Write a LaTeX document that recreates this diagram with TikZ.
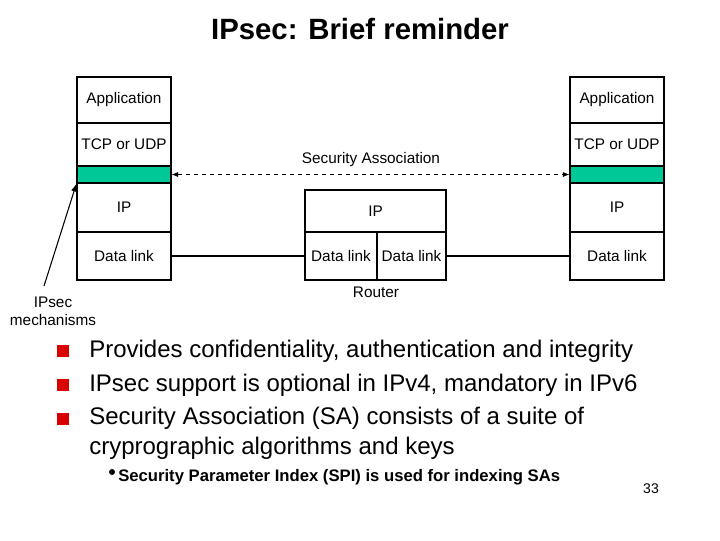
\documentclass[tikz,border=0pt]{standalone}
\usepackage{fontspec}
\setmainfont{Liberation Sans}
\usetikzlibrary{arrows.meta}
\begin{document}
\begin{tikzpicture}[x=0.75pt,y=-0.75pt,
  lay/.style={draw,thick,minimum width=70.5pt,inner sep=0pt,font=\fontsize{11.5}{13}\selectfont},
  bul/.style={anchor=west,font=\fontsize{18}{22.5}\selectfont,inner sep=0pt,align=left},
  sq/.style={fill=red!85!black,minimum size=9pt,inner sep=0pt},
  lbl/.style={font=\fontsize{11.5}{13.5}\selectfont,align=center,inner sep=0pt}]
\useasboundingbox (0,0) rectangle (720,540);
\node[font=\bfseries\fontsize{22}{26}\selectfont] (title) at (360,29) {IPsec: Brief reminder};
\foreach \n/\X in {L/124,R/617}{
 \node[lay,minimum height=34.5pt] (\n app) at (\X,100) {Application};
 \node[lay,minimum height=32.25pt] (\n tcp) at (\X,144.5) {TCP or UDP};
 \node[lay,minimum height=12.75pt,fill={rgb,255:red,0;green,200;blue,150}] (\n sec) at (\X,174.5) {};
 \node[lay,minimum height=36.75pt] (\n ip) at (\X,207.5) {IP};
 \node[lay,minimum height=36pt] (\n dl) at (\X,256) {Data link};
}
\node[lay,minimum width=105.75pt,minimum height=31.5pt] (rip) at (375.5,211) {IP};
\node[lay,minimum width=54pt,minimum height=36pt] (rdl1) at (341,256) {Data link};
\node[lay,minimum width=51.75pt,minimum height=36pt] (rdl2) at (411.5,256) {Data link};
\node[lbl] (router) at (376,292) {Router};
\draw[thick] (Ldl.east) -- (rdl1.west);
\draw[thick] (rdl2.east) -- (Rdl.west);
\draw[dashed,{Latex[length=5pt]}-{Latex[length=5pt]}] (Lsec.east) -- (Rsec.west);
\node[lbl] (sa) at (371,160) {Security Association};
\node[lbl] (mech) at (53,311) {IPsec\\mechanisms};
\coordinate (mt) at (44,286);
\draw[thick,-{Latex[length=6pt]}] (mt) -- (Lsec.south west);
\node[sq] (b1) at (63,351) {};
\node[sq] (b2) at (63,385) {};
\node[sq] (b3) at (63,419) {};
\node[bul] (t1) at (89,351) {Provides confidentiality, authentication and integrity};
\node[bul] (t2) at (89,385) {IPsec support is optional in IPv4, mandatory in IPv6};
\node[bul,anchor=north west] (t3) at (89,407) {Security Association (SA) consists of a suite of\\cryprographic algorithms and keys};
\node[circle,fill,inner sep=0pt,minimum size=4.5pt] (b4) at (112,472) {};
\node[bul,font=\bfseries\fontsize{12.5}{15}\selectfont] (t4) at (118,477) {Security Parameter Index (SPI) is used for indexing SAs};
\node[lbl,font=\fontsize{10.5}{12}\selectfont] (pg) at (651,489) {33};
\end{tikzpicture}
\end{document}
